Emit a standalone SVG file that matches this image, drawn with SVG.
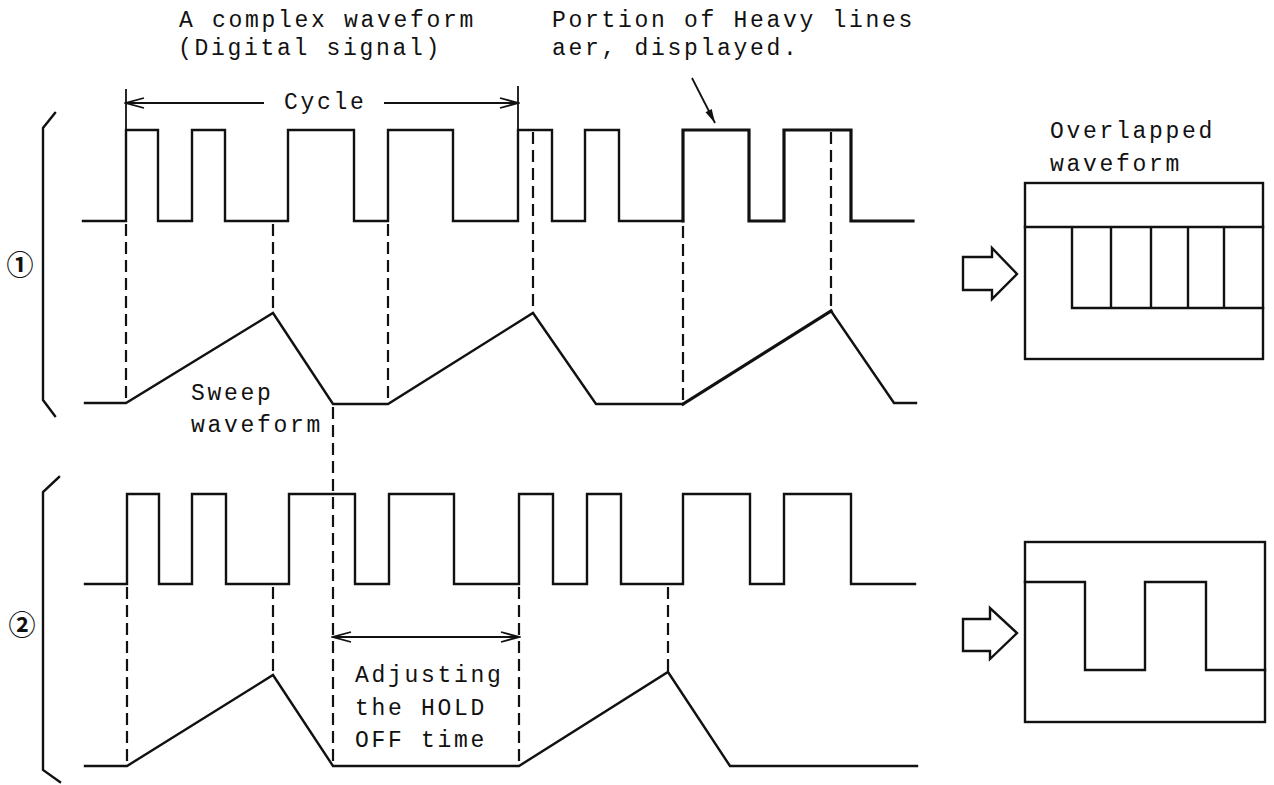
<svg xmlns="http://www.w3.org/2000/svg" width="1274" height="785" viewBox="0 0 1274 785">
<style>
.w{fill:none;stroke:#111;stroke-width:2.4;stroke-linejoin:miter;stroke-linecap:square}
.hv{fill:none;stroke:#111;stroke-width:3.2;stroke-linecap:square}
.d{fill:none;stroke:#111;stroke-width:2.2;stroke-dasharray:12 6}
.t{fill:#111;font-family:"Liberation Mono","DejaVu Sans Mono",monospace;font-size:23px;letter-spacing:2.7px}
.n{fill:#111;font-family:"Noto Sans CJK JP","DejaVu Sans",sans-serif;font-size:27px;font-weight:bold}
.dim{fill:none;stroke:#111;stroke-width:1.8}
.box{fill:#fff;stroke:#111;stroke-width:2.4}
</style>
<defs>
<marker id="chev" viewBox="-20 -7 22 14" markerWidth="22" markerHeight="14" refX="0" refY="0" orient="auto-start-reverse" markerUnits="userSpaceOnUse">
<path d="M-18,-5 L0,0 L-18,5" fill="none" stroke="#111" stroke-width="1.8"/>
</marker>
<marker id="tip" viewBox="-16 -5 18 10" markerWidth="18" markerHeight="10" refX="0" refY="0" orient="auto" markerUnits="userSpaceOnUse">
<path d="M-14,-3.5 L0,0 L-14,3.5 Z" fill="#111"/>
</marker>
</defs>

<g id="labels">
<text class="t" x="179" y="27">A complex waveform</text>
<text class="t" x="178" y="55">(Digital signal)</text>
<text class="t" x="552" y="27">Portion of Heavy lines</text>
<text class="t" x="552" y="55">aer, displayed.</text>
<text class="t" x="284" y="109">Cycle</text>
</g>

<g id="row1-bracket">
<path class="w" d="M55,113 L43,128 V400 L55,416" stroke-linecap="butt"/>
<text class="n" x="20" y="275" text-anchor="middle">①</text>
</g>

<g id="row1-signal">
<path class="w" d="M83,221 H126 V130 H158 V221 H192 V130 H225 V221 H288 V130 H354 V221 H388 V130 H453 V221 H518 V130 H552 V221 H585 V130 H619 V221 H683"/>
<path class="hv" d="M683,221 V130 H749 V221 H784 V130 H851 V221 H913"/>
</g>

<g id="row1-sweep">
<path class="w" d="M85,403 H126 L273,313 L333,404 H388 L533,313 L596,404 H683"/>
<path class="hv" d="M683,404 L831,311"/>
<path class="w" d="M831,311 L894,403 H916"/>
<text class="t" x="191" y="400">Sweep</text>
<text class="t" x="191" y="432">waveform</text>
</g>

<g id="row2-bracket">
<path class="w" d="M59,477 L43,492 V770 L60,782" stroke-linecap="butt"/>
<text class="n" x="22" y="635" text-anchor="middle">②</text>
</g>

<g id="row2-signal">
<path class="w" d="M85,584 H127 V494 H159 V584 H192 V494 H226 V584 H289 V494 H355 V584 H389 V494 H454 V584 H519 V494 H553 V584 H587 V494 H621 V584 H683 V494 H750 V584 H784 V494 H851 V584 H915"/>
</g>

<g id="row2-sweep">
<path class="w" d="M85,766 H127 L273,675 L333,766 H519 L668,672 L730,766 H917"/>
</g>

<g id="holdoff-label">
<text class="t" x="355" y="682">Adjusting</text>
<text class="t" x="355" y="715">the HOLD</text>
<text class="t" x="355" y="747">OFF time</text>
</g>

<g id="connectors">
<line class="dim" x1="126" y1="89" x2="126" y2="130"/>
<line class="dim" x1="518" y1="86" x2="518" y2="130"/>
<line class="dim" x1="126" y1="103" x2="264" y2="103" marker-start="url(#chev)"/>
<line class="dim" x1="384" y1="103" x2="518" y2="103" marker-end="url(#chev)"/>
<line class="dim" x1="692" y1="78" x2="715" y2="123" marker-end="url(#tip)"/>
<line class="dim" x1="333" y1="637" x2="519" y2="637" marker-start="url(#chev)" marker-end="url(#chev)"/>

<line class="d" x1="126" y1="224" x2="126" y2="403"/>
<line class="d" x1="273" y1="224" x2="273" y2="313"/>
<line class="d" x1="388" y1="224" x2="388" y2="404"/>
<line class="d" x1="533" y1="132" x2="533" y2="313"/>
<line class="d" x1="683" y1="226" x2="683" y2="404"/>
<line class="d" x1="831" y1="132" x2="831" y2="311"/>

<line class="d" x1="333" y1="407" x2="333" y2="766"/>
<line class="d" x1="127" y1="587" x2="127" y2="766"/>
<line class="d" x1="273" y1="587" x2="273" y2="675"/>
<line class="d" x1="519" y1="587" x2="519" y2="766"/>
<line class="d" x1="668" y1="587" x2="668" y2="672"/>
</g>

<g id="display1">
<text class="t" x="1050" y="138">Overlapped</text>
<text class="t" x="1050" y="171">waveform</text>
<polygon class="box" points="963,257 992,257 992,248 1017,274 992,299 992,290 963,290"/>
<rect class="box" x="1025" y="183" width="238" height="176"/>
<path class="w" d="M1025,227 H1263 M1072,227 V308 H1263 M1111,227 V308 M1151,227 V308 M1188,227 V308 M1224,227 V308" stroke-linecap="butt"/>
</g>

<g id="display2">
<polygon class="box" points="963,619 990,619 990,608 1017,633 990,659 990,651 963,651"/>
<rect class="box" x="1025" y="542" width="240" height="180"/>
<path class="w" d="M1025,582 H1085 V670 H1145 V582 H1206 V670 H1265" stroke-linecap="butt"/>
</g>
</svg>
